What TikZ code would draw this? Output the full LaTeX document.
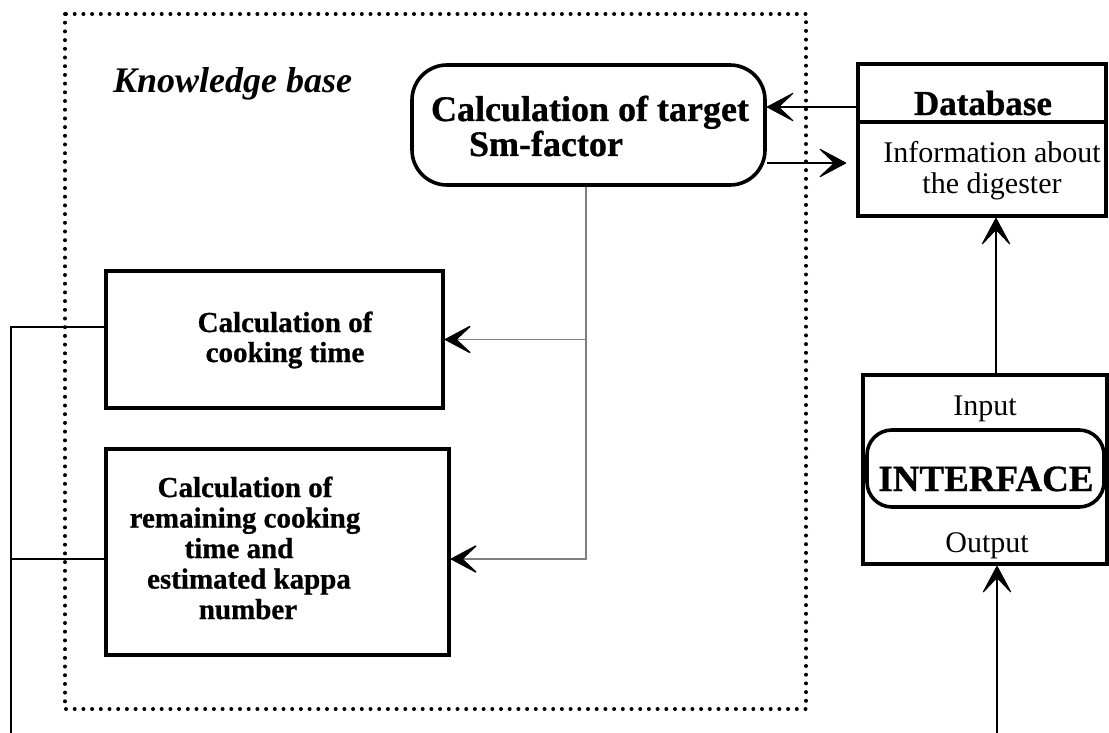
\documentclass[tikz,border=0pt]{standalone}
\usepackage{fontspec}
\setmainfont{Liberation Serif}[BoldFeatures={FakeBold=0.8}]
\usetikzlibrary{arrows.meta}
\begin{document}
\begin{tikzpicture}[x=1pt,y=-1pt,
  box/.style={draw, line width=3.6pt, inner sep=0pt, minimum width=#1},
  roundbox/.style={draw, line width=3.6pt, inner sep=0pt, rounded corners=#1},
  kbframe/.style={line width=4pt, line cap=round, dash pattern=on 0pt off 8.7pt},
  barb/.style={-{Stealth[length=30pt,width=32pt,inset=17pt,round,color=black,fill=black]}},
  wire/.style={line width=1.1pt},
  feed/.style={line width=1.4pt, draw=black!50},
  boldtxt/.style={font=\bfseries\fontsize{#1}{#1}\selectfont, align=center, inner sep=0pt},
  plaintxt/.style={font=\fontsize{30}{31}\selectfont, align=center, inner sep=0pt}
]
\useasboundingbox (0,0) rectangle (1109,733);

% knowledge base frame
\draw[kbframe] (65,14) rectangle (806,709);
\node[font=\bfseries\itshape\fontsize{36}{36}\selectfont, anchor=base west, inner sep=0pt]
  (kb) at (113,93) {Knowledge base};

% calculation modules
\node[roundbox=35pt, minimum width=353pt, minimum height=120pt] (sm) at (588.5,125) {};
\node[boldtxt=36, font=\bfseries\fontsize{36}{35}\selectfont, align=left] (smtxt) at (590,126)
  {Calculation of target\\\hspace*{38pt}Sm-factor};

\node[box=337pt, minimum height=137pt] (cook) at (274.5,339.5) {};
\node[boldtxt=29, font=\bfseries\fontsize{29}{30}\selectfont] (cooktxt) at (285,340)
  {Calculation of\\cooking time};

\node[box=343pt, minimum height=206pt] (remain) at (277.5,552) {};
\node[boldtxt=29, font=\bfseries\fontsize{29}{30.5}\selectfont] (remaintxt) at (245,548)
  {Calculation of\\remaining cooking\\\hspace*{-12pt}time and\\\hspace*{8pt}estimated kappa\\\hspace*{6pt}number};

% database
\node[box=248pt, minimum height=152pt] (db) at (982,140) {};
\draw[line width=3.6pt] (db.west |- 0,122) -- (db.east |- 0,122);
\node[boldtxt=35, anchor=base] (dbtitle) at (983,115) {Database};
\node[plaintxt] (dbinfo) at (992,171) {Information about\\the digester};

% interface
\node[box=244pt, minimum height=189pt] (io) at (985,469.5) {};
\node[roundbox=25pt, minimum width=237pt, minimum height=77pt] (iface) at (985.5,468.5) {};
\node[plaintxt, anchor=base] (input) at (985,415) {Input};
\node[boldtxt=37, anchor=base] (ifacetxt) at (986,491) {INTERFACE};
\node[plaintxt, anchor=base] (output) at (987,552) {Output};

% connectors
\path ([yshift=33pt]db.west) coordinate (dbin);
\draw[wire, barb] (dbin) -- (dbin -| sm.east);
\path ([yshift=-38pt]sm.east) coordinate (smout);
\draw[wire, barb] (smout) -- ([xshift=-10pt]smout -| db.west);

\path ([xshift=-2.5pt]sm.south) coordinate (tap);
\draw[feed, barb] (tap) -- (tap |- cook.east) -- (cook.east);
\draw[feed, barb] (tap |- cook.east) |- ([yshift=-7pt]remain.east);

\coordinate (bus) at (11,733);
\draw[wire] ([yshift=12.5pt]cook.west) -| (bus);
\path ([yshift=-7pt]remain.west) coordinate (rw);
\draw[wire] (rw) -- (rw -| bus);

\path ([xshift=11pt]io.north) coordinate (ioup);
\draw[wire, barb] (ioup) -- (ioup |- db.south);
\coordinate (src) at (997,733);
\draw[wire, barb] (src) -- (src |- io.south);
\end{tikzpicture}
\end{document}
